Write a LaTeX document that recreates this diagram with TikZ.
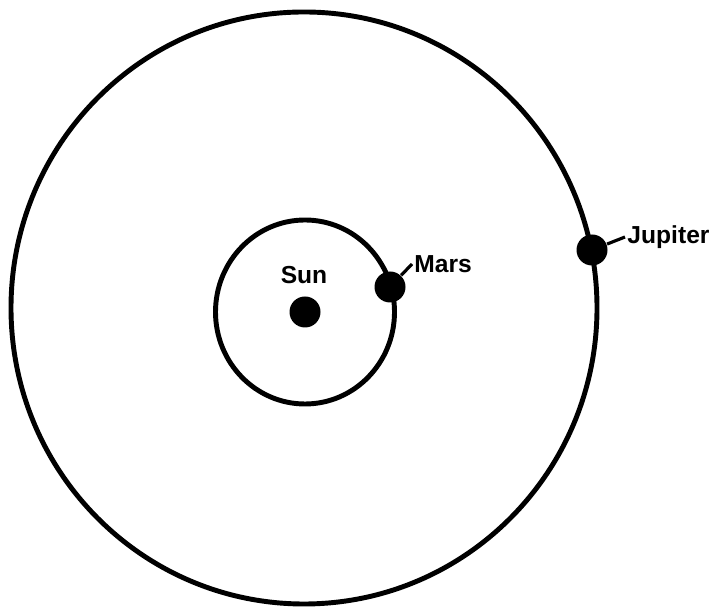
\documentclass[tikz,border=0pt]{standalone}
\usepackage{fontspec}
\setmainfont{Liberation Sans}
\usepackage{tikz}

\tikzset{
  orbit/.style={line width=1.4pt},
  planet/.style={circle,fill=black,inner sep=0pt,minimum size=0.31cm},
  planetlabel/.style={inner sep=0.5pt,font=\fontsize{7}{8.4}\selectfont\bfseries},
  leader/.style={line width=0.9pt}
}

\begin{document}
\begin{tikzpicture}
  \useasboundingbox (0,0) rectangle (7.11,6.07);
  \coordinate (O) at (3.04,2.99);
  \coordinate (S) at (3.05,2.95);
  \draw[orbit] (O) ellipse [x radius=2.93,y radius=2.96];
  \draw[orbit] (S) ellipse [x radius=0.895,y radius=0.92];
  \node[planet] (sun) at (S) {};
  \node[planet] (mars) at (3.90,3.20) {};
  \node[planet] (jupiter) at (5.92,3.57) {};
  \node[planetlabel] (sunlabel) at (3.04,3.32) {Sun};
  \node[planetlabel,anchor=west] (marslabel) at (4.12,3.43) {Mars};
  \node[planetlabel,anchor=west] (jupiterlabel) at (6.25,3.70) {Jupiter};
  \draw[leader] (mars) -- (marslabel.west);
  \draw[leader] (jupiter) -- (jupiterlabel.west);
\end{tikzpicture}
\end{document}
